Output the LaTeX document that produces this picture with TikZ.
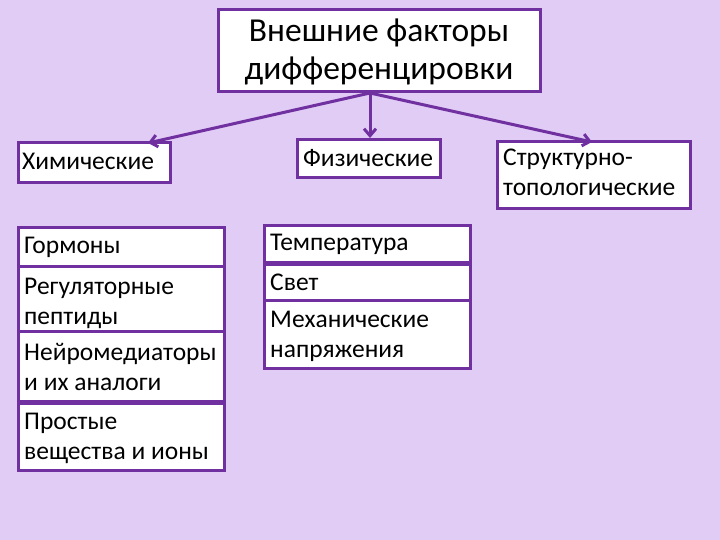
\documentclass[tikz,border=0pt]{standalone}
\usepackage{fontspec}
\setmainfont{Carlito}
\usetikzlibrary{arrows.meta}
\definecolor{bg}{HTML}{E1CCF5}
\definecolor{pur}{HTML}{7030A0}
\tikzset{
 box/.style={draw=pur,line width=3pt,fill=white,inner sep=0pt},
 lbl/.style={anchor=base west,align=left,font=\fontsize{25.5}{30}\selectfont,inner sep=0pt},
 arr/.style={draw=pur,line width=3pt,-{Straight Barb[length=7pt,width=12pt]}}
}
\begin{document}
\begin{tikzpicture}[x=1pt,y=-1pt]
\fill[bg] (0,0) rectangle (720,540);
\useasboundingbox (0,0) rectangle (720,540);
% title
\draw[box] (218,10) rectangle (540,92);
\node[anchor=base,align=center,font=\fontsize{33.5}{38}\selectfont,inner sep=0pt] (t) at (379,80) {Внешние факторы\\дифференцировки};
\coordinate (o) at (370,93);
% level 2
\draw[box] (18,143) rectangle (170,183);
\node[lbl] (chem) at (22,170) {Химические};
\draw[box] (297,140) rectangle (440,178);
\node[lbl] (phys) at (303,167) {Физические};
\draw[box] (497,142) rectangle (690,209);
\node[lbl] (str) at (503,196) {Структурно-\\топологические};
\coordinate (a1) at (148,143);
\coordinate (a2) at (370,138);
\coordinate (a3) at (592,142);
\draw[arr] (o) -- (a1);
\draw[arr] (o) -- (a2);
\draw[arr] (o) -- (a3);
% left column
\draw[box] (18,228) rectangle (224,266);
\node[lbl] (g) at (24,253) {Гормоны};
\draw[box] (18,266) rectangle (224,331);
\node[lbl] (r) at (24,324) {Регуляторные\\пептиды};
\draw[box] (18,331) rectangle (224,401);
\node[lbl] (n) at (24,390) {Нейромедиаторы\\и их аналоги};
\draw[box] (18,403) rectangle (224,470);
\node[lbl] (p) at (24,459) {Простые\\вещества и  ионы};
% middle column
\draw[box] (264,226) rectangle (470,262);
\node[lbl] (te) at (270,251) {Температура};
\draw[box] (264,264) rectangle (470,300);
\node[lbl] (sv) at (270,290) {Свет};
\draw[box] (264,300) rectangle (470,368);
\node[lbl] (me) at (270,357) {Механические\\напряжения};
\end{tikzpicture}
\end{document}
